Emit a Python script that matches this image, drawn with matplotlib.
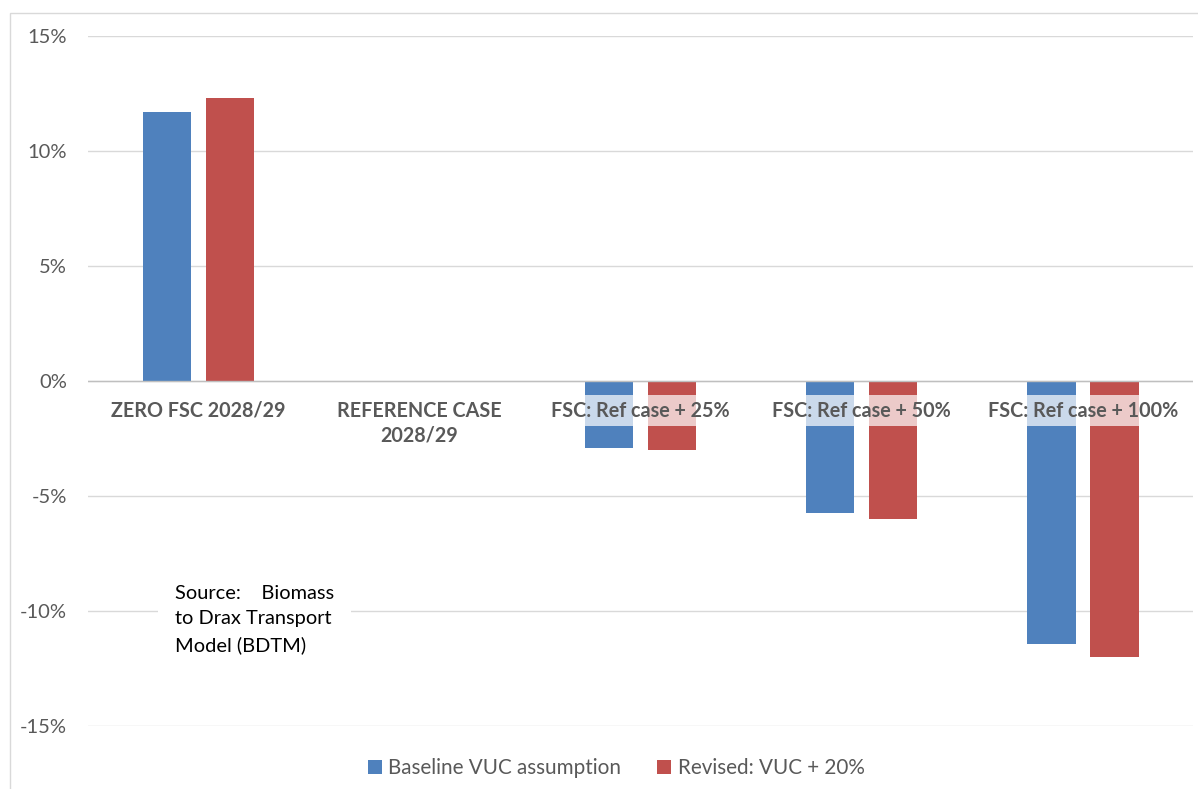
import matplotlib.pyplot as plt
import numpy as np
from matplotlib.patches import Rectangle

categories = ['ZERO FSC 2028/29', 'REFERENCE CASE\n2028/29', 'FSC: Ref case + 25%',
              'FSC: Ref case + 50%', 'FSC: Ref case + 100%']
baseline = [11.7, 0.0, -2.9, -5.75, -11.45]
revised = [12.3, 0.0, -3.0, -6.0, -12.0]
series_names = ['Baseline VUC assumption', 'Revised: VUC + 20%']
yticks = [-15, -10, -5, 0, 5, 10, 15]

plt.rcParams['font.family'] = ['Lato', 'DejaVu Sans']

fig = plt.figure(figsize=(11.98, 7.89), dpi=100)
ax = fig.add_axes([0.0735, 0.0798, 0.9225, 0.8746])

# chart area border
fig.patches.append(Rectangle((10 / 1198, -0.1), 1.2, 1 - 13 / 789 + 0.1,
                             transform=fig.transFigure, fill=False,
                             edgecolor='#d9d9d9', linewidth=1))

index = np.arange(len(categories))
w = 0.22
ax.bar(index - 0.1425, baseline, width=w, color='#4f81bd', label=series_names[0], zorder=2)
ax.bar(index + 0.1425, revised, width=w, color='#c0504d', label=series_names[1], zorder=2)

ax.set_xlim(-0.5, len(categories) - 0.5)
ax.set_ylim(-15, 15)
ax.set_yticks(yticks)
ax.set_yticklabels(['%d%%' % t for t in yticks], color='#595959', fontsize=14.5)
ax.tick_params(axis='y', length=0, pad=15)
ax.set_xticks([])
ax.grid(axis='y', color='#d9d9d9', linewidth=1, zorder=0)
ax.axhline(0, color='#bfbfbf', linewidth=1, zorder=3)
for s in ax.spines.values():
    s.set_visible(False)

for i, c in enumerate(categories):
    ax.text(i, -0.85, c, ha='center', va='top', fontsize=14.2, fontweight='bold',
            color='#595959', linespacing=1.3, zorder=4,
            bbox=dict(facecolor='white', alpha=0.7, edgecolor='none', pad=4))

ax.text(0.0785, 0.205, 'Source:    Biomass\nto Drax Transport\nModel (BDTM)',
        transform=ax.transAxes, ha='left', va='top', fontsize=14.4, color='black',
        linespacing=1.6, zorder=4,
        bbox=dict(facecolor='white', edgecolor='none', pad=12))

ax.legend(loc='upper center', bbox_to_anchor=(0.478, -0.02), ncol=2, frameon=False,
          fontsize=14.9, handlelength=0.67, handleheight=0.67, columnspacing=1.75,
          handletextpad=0.3, labelcolor='#595959')

plt.savefig('out.png', dpi=100)
